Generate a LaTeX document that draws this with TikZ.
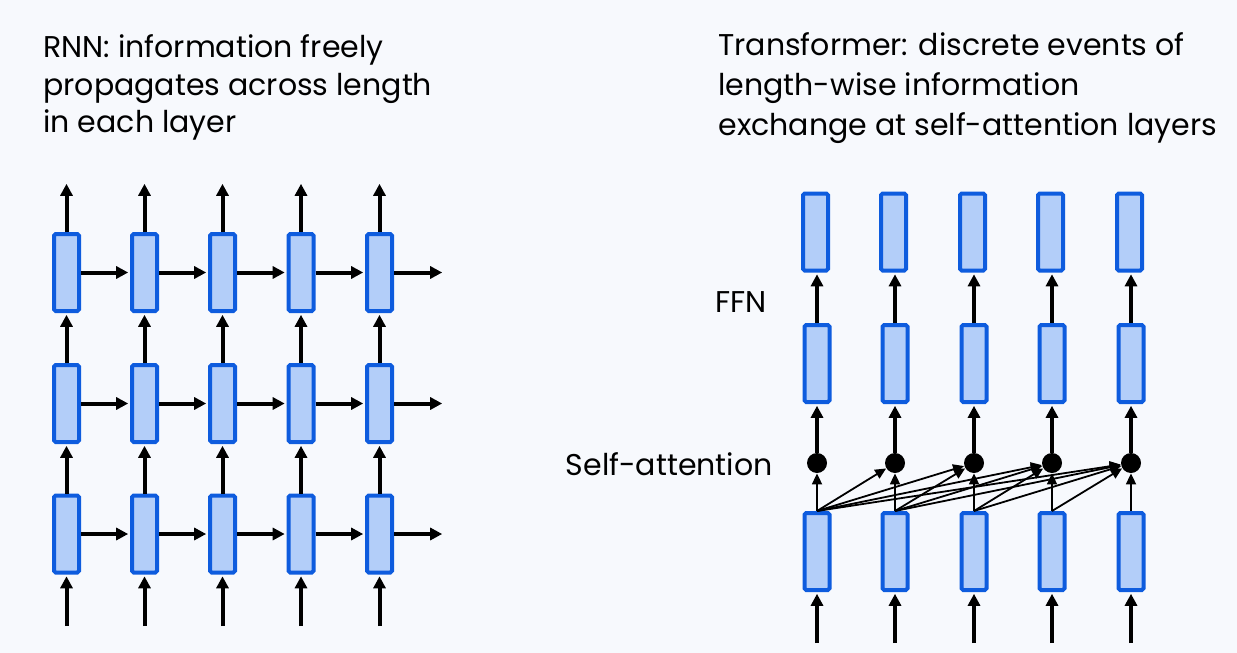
\documentclass[tikz,border=0pt]{standalone}
\usepackage{fontspec}
\setmainfont{Poppins}
\usetikzlibrary{arrows.meta}
\definecolor{bgcol}{HTML}{F7F9FD}
\definecolor{boxblue}{HTML}{0E5CDE}
\definecolor{boxfill}{HTML}{B3CEF9}

\begin{document}
\begin{tikzpicture}[x=0.5pt,y=-0.5pt,
    cell/.style={draw=boxblue, fill=boxfill, line width=2pt, rounded corners=0.8pt,
                 minimum width=12.5pt, minimum height=38.5pt, inner sep=0pt},
    dotnode/.style={circle, fill=black, minimum size=10pt, inner sep=0pt},
    flow/.style={line width=2pt, -{Triangle[width=6pt,length=6pt]}, shorten >=0.9pt},
    attn/.style={line width=0.9pt, -{Triangle[width=5pt,length=5.5pt]}},
    title/.style={anchor=base west, inner sep=0pt, font=\fontsize{15}{18}\selectfont},
    label/.style={anchor=base east, inner sep=0pt, font=\fontsize{15}{18}\selectfont}]
       % background and bounding box
       \useasboundingbox (0,0) rectangle (1237,653);
       \fill[bgcol] (0,0) rectangle (1237,653);
       % titles
       \node[title] (rnn1) at (43,57) {RNN: information freely};
       \node[title] (rnn2) at (43,95) {propagates across length};
       \node[title] (rnn3) at (43,132) {in each layer};
       \node[title] (tr1) at (718,55) {Transformer: discrete events of};
       \node[title] (tr2) at (718,95) {length-wise information};
       \node[title] (tr3) at (718,135) {exchange at self-attention layers};
       \node[label] (ffn) at (767,312) {FFN};
       \node[label] (sa) at (773,475) {Self-attention};
       % RNN grid
       \foreach \x [count=\c] in {66.5,144.5,222.5,301,379.5} {
         \foreach \y [count=\r] in {272.5,403.5,534}
           \node[cell] (r\c\r) at (\x,\y) {};
         \coordinate (rin\c) at (\x,626);
         \coordinate (rout\c) at (\x,182);
         \draw[flow] (rin\c) -- (r\c3.south);
         \draw[flow] (r\c3.north) -- (r\c2.south);
         \draw[flow] (r\c2.north) -- (r\c1.south);
         \draw[flow] (r\c1.north) -- (rout\c);
       }
       \foreach \r/\y in {1/272.5,2/403.5,3/534} {
         \foreach \c in {1,...,4} {
           \pgfmathtruncatemacro\n{\c+1}
           \draw[flow] (r\c\r.east) -- (r\n\r.west);
         }
         \coordinate (rend\r) at (444,\y);
         \draw[flow] (r5\r.east) -- (rend\r);
       }
       % Transformer columns
       \foreach \x [count=\c] in {817,895,974,1052,1131} {
         \node[cell] (t\c) at (\x-1.5,232) {};
         \node[cell] (m\c) at (\x,363.5) {};
         \node[dotnode] (d\c) at (\x,463) {};
         \node[cell] (b\c) at (\x,551.5) {};
         \coordinate (tin\c) at (\x,643);
         \draw[flow] (tin\c) -- (b\c.south);
         \draw[attn] (b\c.north) -- (d\c);
         \draw[flow] (d\c) -- (m\c.south);
         \draw[flow] (m\c.north) -- (m\c.north |- t\c.south);
       }
       % self-attention links
       \foreach \a in {1,...,4} {
         \pgfmathtruncatemacro\s{\a+1}
         \foreach \b in {\s,...,5}
           \draw[attn] (b\a.north) -- (d\b);
       }
\end{tikzpicture}
\end{document}
